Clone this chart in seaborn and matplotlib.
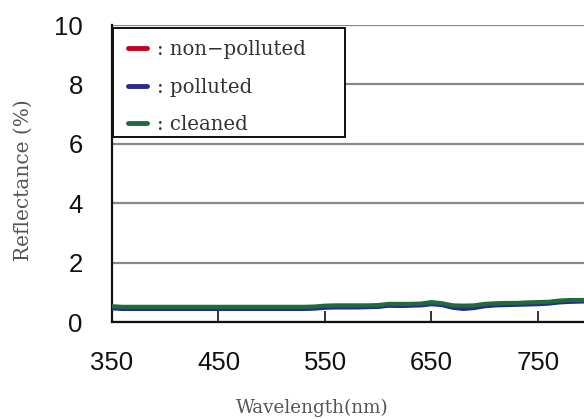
import numpy as np
import pandas as pd
import matplotlib
matplotlib.use("Agg")
import matplotlib.pyplot as plt
from matplotlib.lines import Line2D
from matplotlib.patches import Rectangle
import seaborn as sns

# Spectral reflectance of the three surface states (10 nm steps)
wavelength = [350, 360, 370, 380, 390, 400, 410, 420, 430, 440,
              450, 460, 470, 480, 490, 500, 510, 520, 530, 540,
              550, 560, 570, 580, 590, 600, 610, 620, 630, 640,
              650, 660, 670, 680, 690, 700, 710, 720, 730, 740,
              750, 760, 770, 780, 790, 800]

non_polluted = [0.50, 0.46, 0.47, 0.46, 0.47, 0.47, 0.46, 0.47, 0.47, 0.47,
                0.47, 0.47, 0.47, 0.47, 0.47, 0.47, 0.47, 0.47, 0.47, 0.48,
                0.51, 0.52, 0.52, 0.52, 0.52, 0.53, 0.57, 0.56, 0.57, 0.58,
                0.63, 0.60, 0.52, 0.50, 0.52, 0.56, 0.58, 0.60, 0.61, 0.62,
                0.63, 0.65, 0.68, 0.70, 0.71, 0.71]

polluted = [0.46, 0.44, 0.44, 0.44, 0.44, 0.44, 0.44, 0.44, 0.44, 0.44,
            0.44, 0.44, 0.44, 0.44, 0.44, 0.44, 0.44, 0.44, 0.44, 0.45,
            0.48, 0.49, 0.49, 0.49, 0.50, 0.51, 0.55, 0.54, 0.55, 0.56,
            0.60, 0.57, 0.48, 0.44, 0.47, 0.53, 0.56, 0.57, 0.58, 0.59,
            0.60, 0.62, 0.66, 0.68, 0.69, 0.69]

cleaned = [0.53, 0.51, 0.51, 0.51, 0.51, 0.51, 0.51, 0.51, 0.51, 0.51,
           0.51, 0.51, 0.51, 0.51, 0.51, 0.51, 0.51, 0.51, 0.51, 0.52,
           0.55, 0.56, 0.56, 0.56, 0.56, 0.57, 0.61, 0.61, 0.61, 0.62,
           0.67, 0.63, 0.56, 0.55, 0.56, 0.61, 0.63, 0.64, 0.64, 0.66,
           0.67, 0.68, 0.72, 0.74, 0.74, 0.74]

series_names = ["non-polluted", "polluted", "cleaned"]
legend_labels = [": non\u2212polluted", ": polluted", ": cleaned"]
series_colors = ["#c8001e", "#262b8c", "#1f6b3b"]
y_ticks = [0, 2, 4, 6, 8, 10]
x_ticks = [350, 450, 550, 650, 750]

df = pd.concat([
    pd.DataFrame({"wavelength": wavelength, "reflectance": vals, "state": name})
    for name, vals in zip(series_names, [non_polluted, polluted, cleaned])
], ignore_index=True)

sns.set_theme(style="white")
plt.rcParams["font.family"] = ["Liberation Sans", "DejaVu Sans"]

W, H = 584, 419
fig = plt.figure(figsize=(W / 100, H / 100), dpi=100)
ax = fig.add_axes([112 / W, 1 - 322 / H, 1 - 112 / W + 0.01, (322 - 25) / H])

sns.lineplot(data=df, x="wavelength", y="reflectance", hue="state",
             hue_order=series_names, palette=series_colors,
             linewidth=3.0, ax=ax, legend=False, zorder=3)

ax.set_xlim(350, 793.2 + 0.01 * W / 1.065)
ax.set_ylim(0, 10)
ax.set_xticks(x_ticks)
ax.set_yticks(y_ticks)
ax.set_xticklabels([str(t) for t in x_ticks], fontsize=18.5, color="#111111")
ax.set_yticklabels([str(t) for t in y_ticks], fontsize=18.5, color="#111111")

ax.grid(axis="y", color="#888888", linewidth=1.6)
ax.grid(axis="x", visible=False)
ax.set_axisbelow(True)

for side in ("top", "right"):
    ax.spines[side].set_visible(False)
for side in ("left", "bottom"):
    ax.spines[side].set_visible(True)
    ax.spines[side].set_color("#111111")
    ax.spines[side].set_linewidth(1.6)

ax.tick_params(axis="x", direction="in", length=8, width=1.2, color="#111111",
               pad=21, bottom=True)
ax.tick_params(axis="y", length=0, pad=21)

ax.set_xlabel("Wavelength(nm)", family=["DejaVu Serif"], fontsize=13.2,
              color="#555555")
ax.set_ylabel("Reflectance (%)", family=["DejaVu Serif"], fontsize=14.5,
              color="#555555")
ax.xaxis.set_label_coords((310 - 112) / 472, (322 - 408) / 297)
ax.xaxis.label.set_va("center")
ax.yaxis.set_label_coords((24 - 112) / 472, (322 - 180) / 297)
ax.yaxis.label.set_va("center")

# Legend box with generous right margin
box = Rectangle((113 / W, 1 - 137 / H), (345 - 113) / W, (137 - 28) / H,
                transform=fig.transFigure, facecolor="white",
                edgecolor="#111111", linewidth=1.4, zorder=5, clip_on=False)
ax.add_artist(box)

handles = [Line2D([0], [0], color=c, linewidth=3.5) for c in series_colors]
leg = ax.legend(handles, legend_labels, loc="upper left",
                bbox_to_anchor=(120 / W, 1 - 32 / H),
                bbox_transform=fig.transFigure,
                prop={"family": "DejaVu Serif", "size": 14.2},
                frameon=False, handlelength=0.95, handletextpad=0.55,
                labelspacing=0.95, borderpad=0.4, borderaxespad=0)
leg.set_zorder(6)
for t in leg.get_texts():
    t.set_color("#333333")

fig.savefig("out.png", dpi=100)
